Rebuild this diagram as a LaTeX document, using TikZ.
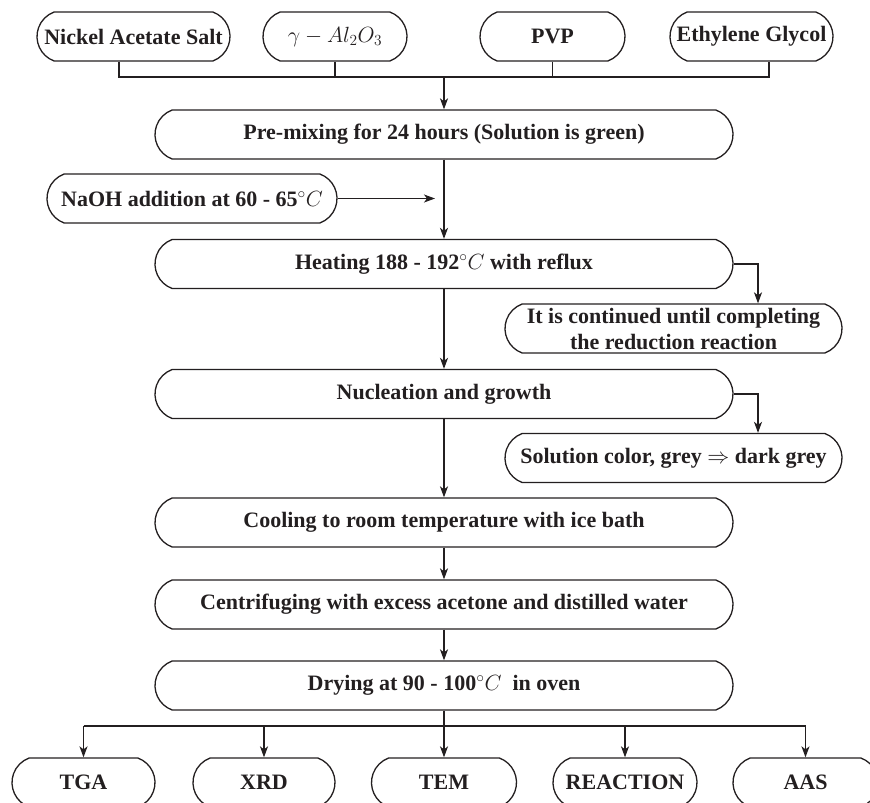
\RequirePackage{fix-cm}
\documentclass[tikz,border=0pt]{standalone}
\usepackage{fontspec}
\setmainfont{Liberation Serif}
\usetikzlibrary{shapes.misc,arrows.meta}
\definecolor{ink}{RGB}{35,31,32}
\tikzset{
  box/.style={rounded rectangle, rounded rectangle arc length=140, draw=ink, line width=1.3pt,
    minimum height=49pt, inner sep=0pt, text=ink,
    font=\fontsize{22}{26}\selectfont\bfseries},
  arr/.style={draw=ink, line width=1.3pt, -{Stealth[length=11pt,width=8pt,inset=3pt]}},
  ln/.style={draw=ink, line width=1.3pt}
}
\begin{document}
\begin{tikzpicture}[x=1pt,y=-1pt]
\useasboundingbox (0,0) rectangle (870,803);
\clip (0,0) rectangle (870,803);
% inputs
\node[box, minimum width=193pt] (nickel) at (133.5,36.5) {Nickel Acetate Salt};
\node[box, minimum width=144pt] (gamma) at (335,36.5) {$\gamma - Al_2O_3$};
\node[box, minimum width=145pt] (pvp) at (552.5,36.5) {PVP};
\node[box, minimum width=163pt] (eg) at (751.5,36.5) {Ethylene Glycol};
% main column
\node[box, minimum width=578pt] (premix) at (444,134.5) {Pre-mixing for 24 hours (Solution is green)};
\node[box, minimum width=290pt] (naoh) at (192,198.5) {NaOH addition at 60 - 65$^\circ C$};
\node[box, minimum width=578pt] (heat) at (444,264) {Heating 188 - 192$^\circ C$ with reflux};
\node[box, minimum width=337pt, align=center] (cont) at (673.5,328.5) {It is continued until completing\\the reduction reaction};
\node[box, minimum width=578pt] (nucl) at (444,394) {Nucleation and growth};
\node[box, minimum width=337pt] (sol) at (673.5,458) {Solution color, grey $\Rightarrow$ dark grey};
\node[box, minimum width=578pt] (cool) at (444,522.5) {Cooling to room temperature with ice bath};
\node[box, minimum width=578pt] (cent) at (444,604.5) {Centrifuging with excess acetone and distilled water};
\node[box, minimum width=578pt] (dry) at (444,685.5) {Drying at 90 - 100$^\circ C$\ \ in oven};
% outputs
\node[box, minimum width=143pt] (tga) at (83.5,782.5) {TGA};
\node[box, minimum width=142pt] (xrd) at (264,782.5) {XRD};
\node[box, minimum width=145pt] (tem) at (444,782.5) {TEM};
\node[box, minimum width=144pt] (reac) at (625,782.5) {REACTION};
\node[box, minimum width=145pt] (aas) at (805.5,782.5) {AAS};
% coordinates
\coordinate (bus) at (444,77);
\coordinate (busL) at (119,77);
\coordinate (busR) at (769,77);
\coordinate (naohEnd) at (435,198.5);
\coordinate (hside) at (758,264);
\coordinate (nside) at (758,394);
\coordinate (bbus) at (444,726);
% connectors
\draw[ln] ([xshift=-14.5pt]nickel.south) -- (busL) -- (busR) -- ([xshift=17.5pt]eg.south);
\draw[ln] (gamma.south) -- (gamma.south |- bus);
\draw[ln] (pvp.south) -- (pvp.south |- bus);
\draw[arr] (bus) -- (premix.north);
\draw[arr] (naoh.east) -- (naohEnd);
\draw[arr] (premix.south) -- (heat.north);
\draw[arr] (heat.east) -- (hside) -- (cont.north -| hside);
\draw[arr] (heat.south) -- (nucl.north);
\draw[arr] (nucl.east) -- (nside) -- (sol.north -| nside);
\draw[arr] (nucl.south) -- (cool.north);
\draw[arr] (cool.south) -- (cent.north);
\draw[arr] (cent.south) -- (dry.north);
\draw[arr] (dry.south) -- (tem.north);
\draw[ln] (tga.north |- bbus) -- (aas.north |- bbus);
\foreach \n in {tga,xrd,reac,aas} \draw[arr] (\n.north |- bbus) -- (\n.north);
\end{tikzpicture}
\end{document}
